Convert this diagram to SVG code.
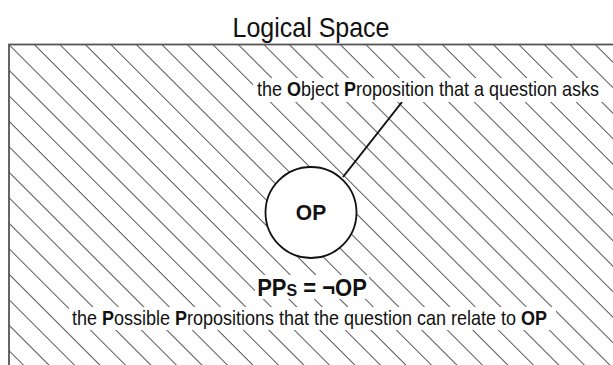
<svg xmlns="http://www.w3.org/2000/svg" width="613" height="365" viewBox="0 0 613 365">
<style>
text{font-family:"Liberation Sans",Arial,sans-serif;fill:#111}
.lbl{font-size:18px}
.b{font-weight:bold}
.bg{fill:#fff}
</style>
<defs>
<pattern id="hatch" patternUnits="userSpaceOnUse" width="20" height="18.03" patternTransform="translate(10,45) rotate(45)">
<line x1="-1" y1="0.5" x2="21" y2="0.5" stroke="#555" stroke-width="1"/>
</pattern>
</defs>
<rect width="613" height="365" fill="#fff"/>
<text transform="translate(311,37) scale(1,1.1)" font-size="25" text-anchor="middle">Logical Space</text>
<g id="space">
<rect x="9" y="44.5" width="620" height="340" fill="url(#hatch)" stroke="#555" stroke-width="1.8"/>
</g>
<g id="connectors">
<line x1="402" y1="102" x2="343" y2="177" stroke="#111" stroke-width="2"/>
</g>
<g id="op-label">
<rect class="bg" x="253" y="78" width="350" height="24"/>
<text class="lbl" transform="translate(257,96) scale(1,1.08)">the <tspan class="b">O</tspan>bject <tspan class="b">P</tspan>roposition that a question asks</text>
</g>
<g id="op">
<circle cx="311" cy="212.5" r="45.5" fill="#fff" stroke="#111" stroke-width="1.8"/>
<text transform="translate(311,219.5) scale(1,1.08)" font-size="21" class="b" text-anchor="middle">OP</text>
</g>
<g id="pps">
<rect class="bg" x="255" y="275" width="114" height="24"/>
<text transform="translate(312,296) scale(1,1.08)" font-size="22" class="b" text-anchor="middle">PP<tspan font-size="16">S</tspan> = ¬OP</text>
</g>
<g id="pps-label">
<rect class="bg" x="69" y="307" width="487" height="23"/>
<text class="lbl" transform="translate(72,325) scale(1,1.08)">the <tspan class="b">P</tspan>ossible <tspan class="b">P</tspan>ropositions that the question can relate to <tspan class="b">OP</tspan></text>
</g>
</svg>
